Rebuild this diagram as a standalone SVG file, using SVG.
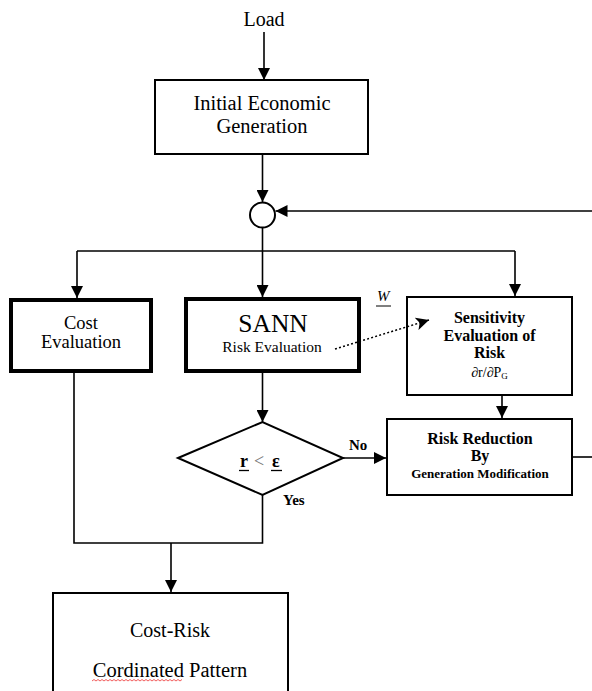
<svg xmlns="http://www.w3.org/2000/svg" width="592" height="691" viewBox="0 0 592 691">
<style>
text{font-family:"Liberation Serif","Times New Roman",serif;fill:#000}
.b{font-weight:bold}
.box{fill:#fff;stroke:#000;stroke-width:2}
.thick{fill:#fff;stroke:#000;stroke-width:4}
.ln{fill:none;stroke:#000;stroke-width:1.6}
.ar{fill:none;stroke:#000;stroke-width:1.6;marker-end:url(#ah)}
</style>
<defs>
<marker id="ah" viewBox="0 0 12 12" refX="12" refY="6" markerWidth="12" markerHeight="12" markerUnits="userSpaceOnUse" orient="auto">
<path d="M0,0 L12,6 L0,12 Z" fill="#000"/>
</marker>
<marker id="ah2" viewBox="0 0 12 12" refX="12" refY="6" markerWidth="13" markerHeight="13" markerUnits="userSpaceOnUse" orient="auto">
<path d="M0,0 L12,6 L0,12 L3,6 Z" fill="#000"/>
</marker>
</defs>
<rect width="592" height="691" fill="#fff"/>
<g id="load"><text x="264" y="26" font-size="20" text-anchor="middle">Load</text></g>
<g id="initial">
<rect class="box" x="155" y="80" width="213" height="74"/>
<text x="262" y="110" font-size="20.5" text-anchor="middle">Initial Economic</text>
<text x="262" y="133" font-size="20.5" text-anchor="middle">Generation</text>
</g>
<g id="junction"><circle cx="262.5" cy="215" r="12.5" fill="#fff" stroke="#000" stroke-width="2"/></g>
<g id="cost">
<rect class="thick" x="11" y="300" width="140" height="71"/>
<text x="81" y="329" font-size="18.5" text-anchor="middle">Cost</text>
<text x="81" y="348" font-size="18.5" text-anchor="middle">Evaluation</text>
</g>
<g id="sann">
<rect class="thick" x="186" y="299" width="173" height="72"/>
<text x="273" y="332" font-size="25.5" text-anchor="middle">SANN</text>
<text x="272" y="352" font-size="15.5" text-anchor="middle">Risk Evaluation</text>
</g>
<g id="w">
<text x="377" y="301" font-size="15" font-style="italic">W</text>
<line x1="376" y1="306" x2="391" y2="306" stroke="#000" stroke-width="1"/>
</g>
<g id="sensitivity">
<rect class="box" x="407" y="297" width="165" height="98"/>
<text class="b" x="489.5" y="323" font-size="16" text-anchor="middle">Sensitivity</text>
<text class="b" x="489.5" y="341" font-size="16" text-anchor="middle">Evaluation of</text>
<text class="b" x="489.5" y="358" font-size="16" text-anchor="middle">Risk</text>
<text x="489.5" y="377" font-size="14" text-anchor="middle">∂r/∂P<tspan font-size="9" dy="2">G</tspan></text>
</g>
<g id="decision">
<path d="M178,458 L262.5,422 L343,458 L262.5,495 Z" fill="#fff" stroke="#000" stroke-width="2"/>
<text class="b" x="240" y="467" font-size="18">r</text>
<line x1="239" y1="470.5" x2="249" y2="470.5" stroke="#000" stroke-width="1.3"/>
<text x="254" y="467" font-size="18" style="fill:#777">&lt;</text>
<text class="b" x="272" y="467" font-size="18">ε</text>
<line x1="271" y1="470.5" x2="282" y2="470.5" stroke="#000" stroke-width="1.3"/>
<text class="b" x="349" y="450" font-size="15">No</text>
<text class="b" x="283" y="505" font-size="15">Yes</text>
</g>
<g id="reduction">
<rect class="box" x="387" y="419" width="185" height="76"/>
<text class="b" x="480" y="444" font-size="16" text-anchor="middle">Risk Reduction</text>
<text class="b" x="480" y="461" font-size="16" text-anchor="middle">By</text>
<text class="b" x="480" y="478" font-size="13" text-anchor="middle">Generation Modification</text>
</g>
<g id="pattern">
<path d="M53,700 V593 H288 V700" fill="#fff" stroke="#000" stroke-width="2"/>
<text x="170" y="637" font-size="20" text-anchor="middle">Cost-Risk</text>
<text x="170" y="677" font-size="20.5" text-anchor="middle">Cordinated Pattern</text>
<path d="M92,681 l2,-1.5 l2,1.5 l2,-1.5 l2,1.5 l2,-1.5 l2,1.5 l2,-1.5 l2,1.5 l2,-1.5 l2,1.5 l2,-1.5 l2,1.5 l2,-1.5 l2,1.5 l2,-1.5 l2,1.5 l2,-1.5 l2,1.5 l2,-1.5 l2,1.5 l2,-1.5 l2,1.5 l2,-1.5 l2,1.5 l2,-1.5 l2,1.5 l2,-1.5 l2,1.5 l2,-1.5 l2,1.5 l2,-1.5 l2,1.5 l2,-1.5 l2,1.5 l2,-1.5 l2,1.5 l2,-1.5 l2,1.5 l2,-1.5 l2,1.5 l2,-1.5 l2,1.5 l2,-1.5 l2,1.5 l2,-1.5" fill="none" stroke="#e33" stroke-width="0.8"/>
</g>
<g id="connectors">
<path class="ar" d="M264,32 V80"/>
<path class="ar" d="M262.5,154 V202"/>
<path class="ar" d="M592,211 H275.5"/>
<path class="ln" d="M77,251 H515"/>
<path class="ar" d="M77,251 V298"/>
<path class="ar" d="M262.5,227.5 V297"/>
<path class="ar" d="M515,251 V296"/>
<path class="ar" d="M262.5,373 V422"/>
<path class="ar" d="M502,396 V418"/>
<path class="ar" d="M343,458 H386"/>
<path class="ln" d="M573,457 H592"/>
<path class="ln" d="M74,373 V543 H262.5 V495"/>
<path class="ar" d="M171,543 V592"/>
<path d="M335,349 L429,320" fill="none" stroke="#000" stroke-width="1.5" stroke-dasharray="2,2.2" marker-end="url(#ah2)"/>
</g>
</svg>
